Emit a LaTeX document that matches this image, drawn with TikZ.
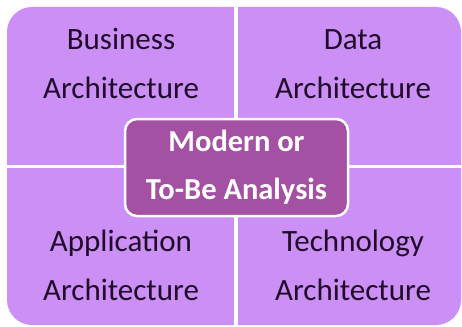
\documentclass[tikz,border=0pt]{standalone}
\usepackage{fontspec}
\setmainfont{Carlito}
\definecolor{quadfill}{RGB}{203,143,245}
\definecolor{corefill}{RGB}{164,81,163}
\definecolor{quadtext}{RGB}{32,12,42}
\tikzset{
  quadlabel/.style={anchor=base, align=center, text=quadtext, inner sep=0pt,
    font=\fontsize{31}{48.5}\selectfont},
  gapline/.style={white, line width=3.5pt},
  corebox/.style={draw=white, line width=2.5pt, fill=corefill, rounded corners=12pt,
    minimum width=223pt, minimum height=97pt, align=center, text=white, inner sep=0pt,
    font=\fontsize{30.5}{48}\selectfont\bfseries}
}
\begin{document}
\begin{tikzpicture}[x=1pt,y=-1pt]
\useasboundingbox (0,0) rectangle (462,326);
\fill[white] (0,0) rectangle (462,326);
\fill[quadfill, rounded corners=25pt] (7,7) rectangle (461,325);
\coordinate (vtop) at (236,7);
\coordinate (vbot) at (236,325);
\coordinate (hleft) at (7,166.5);
\coordinate (hright) at (461,166.5);
\draw[gapline] (vtop) -- (vbot);
\draw[gapline] (hleft) -- (hright);
\node[quadlabel] (biz) at (121,98.5) {Business\\Architecture};
\node[quadlabel] (data) at (353,98.5) {Data\\Architecture};
\node[quadlabel] (app) at (121,300) {Application\\Architecture};
\node[quadlabel] (tech) at (353,300) {Technology\\Architecture};
\node[corebox] (core) at (236.5,167.5) {Modern or\\To-Be Analysis};
\end{tikzpicture}
\end{document}
